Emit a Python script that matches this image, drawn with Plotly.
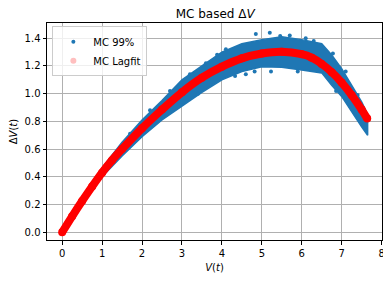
import plotly.graph_objects as go

# Lagfit curve (red)
fit_x = [0, 0.25, 0.5, 0.75, 1.0, 1.25, 1.5, 2.0, 2.5, 3.0, 3.5, 4.0, 4.5, 5.0, 5.5, 6.0, 6.25, 6.5, 6.75, 7.0, 7.25, 7.5, 7.64]
fit_y = [0, 0.115, 0.225, 0.33, 0.43, 0.52, 0.60, 0.75, 0.885, 1.01, 1.115, 1.195, 1.255, 1.29, 1.303, 1.285, 1.26, 1.215, 1.155, 1.08, 0.99, 0.885, 0.82]

# MC 99% cloud envelope (blue)
band_x = [0, 0.25, 0.5, 0.75, 1.0, 1.5, 2.0, 2.5, 3.0, 3.5, 4.0, 4.5, 5.0, 5.5, 6.0, 6.5, 6.75, 7.0, 7.25, 7.5, 7.65]
band_upper = [0.005, 0.12, 0.235, 0.345, 0.465, 0.65, 0.81, 0.95, 1.10, 1.20, 1.30, 1.36, 1.39, 1.41, 1.39, 1.36, 1.28, 1.18, 1.06, 0.94, 0.85]
band_lower = [0.0, 0.105, 0.21, 0.31, 0.40, 0.55, 0.69, 0.81, 0.91, 1.01, 1.10, 1.16, 1.195, 1.19, 1.17, 1.15, 1.06, 0.98, 0.87, 0.76, 0.70]

# scattered MC points along / outside the dense band edges
out_x = [4.85, 5.2, 5.46, 4.82, 5.23, 4.33, 6.86, 3.88, 6.78, 4.6, 5.9, 6.1,
         2.2, 2.7, 3.2, 3.6, 4.1, 5.7, 6.3, 7.1, 7.4, 1.7, 3.4]
out_y = [1.43, 1.44, 1.416, 1.16, 1.16, 1.128, 1.02, 1.28, 1.29, 1.14, 1.16, 1.40,
         0.88, 1.02, 1.14, 1.22, 1.32, 1.42, 1.38, 1.16, 0.99, 0.71, 1.0]

x_ticks = [0, 1, 2, 3, 4, 5, 6, 7, 8]
y_ticks = [0.0, 0.2, 0.4, 0.6, 0.8, 1.0, 1.2, 1.4]

BLUE = "#1f77b4"
RED = "#ff0000"

fig = go.Figure()

fig.add_trace(go.Scatter(
    x=band_x + band_x[::-1], y=band_upper + band_lower[::-1],
    mode="lines", fill="toself", fillcolor=BLUE,
    line=dict(color=BLUE, width=1.5),
    showlegend=False, hoverinfo="skip"))
fig.add_trace(go.Scatter(
    x=out_x, y=out_y, mode="markers",
    marker=dict(color=BLUE, size=4), showlegend=False))
fig.add_trace(go.Scatter(
    x=fit_x, y=fit_y, mode="lines+markers",
    line=dict(color=RED, width=8, shape="spline"),
    marker=dict(color=RED, size=8), showlegend=False))

# legend entries
fig.add_trace(go.Scatter(x=[None], y=[None], mode="markers", name="MC 99%",
                         marker=dict(color=BLUE, size=4)))
fig.add_trace(go.Scatter(x=[None], y=[None], mode="markers", name="MC Lagfit",
                         marker=dict(color="rgba(255,0,0,0.25)", size=6)))

axis_common = dict(
    showline=True, linecolor="black", linewidth=1, mirror=True,
    showgrid=True, gridcolor="#b0b0b0", gridwidth=0.8,
    ticks="outside", ticklen=3.5, tickcolor="black", zeroline=False,
    tickfont=dict(size=10, color="black"), automargin=False,
)

# page body has an 8px margin, so the figure is shifted by 8px; compensate
fig.update_layout(
    width=383, height=274,
    margin=dict(l=39, r=9, t=15, b=42),
    paper_bgcolor="white", plot_bgcolor="white",
    font=dict(family="DejaVu Sans", color="black"),
    title=dict(text="MC based Δ<i>V</i>", x=0.541, xanchor="center",
               y=0.978, yanchor="middle", font=dict(size=12), automargin=False),
    xaxis=dict(range=[-0.38, 8.01], tickvals=x_ticks,
               title=dict(text="<i>V</i>(<i>t</i>)", font=dict(size=10), standoff=6),
               **axis_common),
    yaxis=dict(range=[-0.056, 1.51], tickvals=y_ticks, tickformat=".1f",
               title=dict(text="Δ<i>V</i>(<i>t</i>)", font=dict(size=10), standoff=6),
               **axis_common),
    legend=dict(x=0.016, y=0.985, xanchor="left", yanchor="top",
                bgcolor="rgba(255,255,255,0.8)", bordercolor="#cccccc", borderwidth=1,
                font=dict(size=10), itemwidth=30, tracegroupgap=0),
)

fig.write_html("out.html")
